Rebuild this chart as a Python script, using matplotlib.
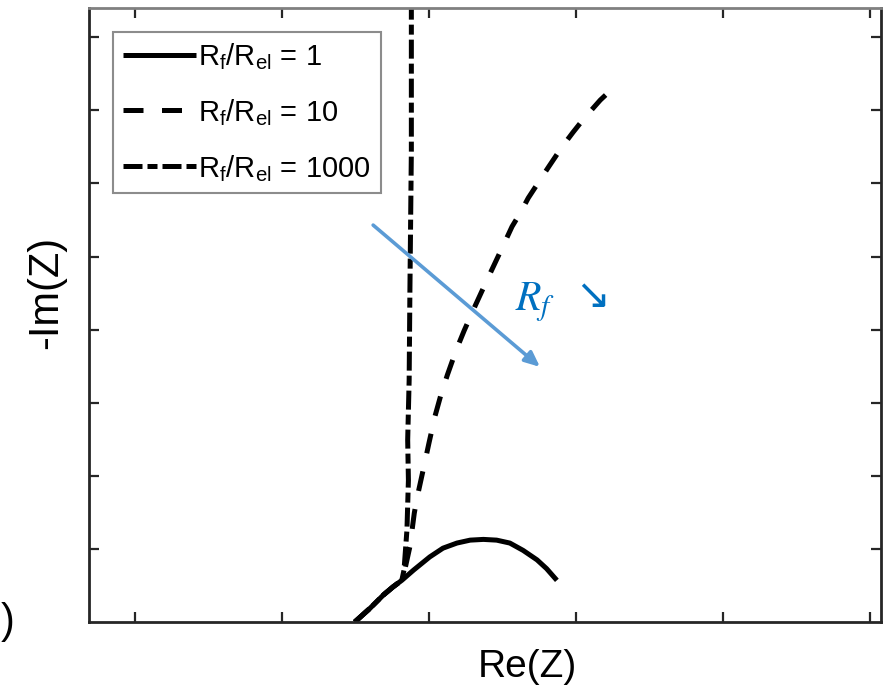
import numpy as np
import matplotlib
matplotlib.use('Agg')
import matplotlib.pyplot as plt

plt.rcParams['font.family'] = ['Liberation Sans', 'DejaVu Sans']
plt.rcParams['mathtext.fontset'] = 'custom'
plt.rcParams['mathtext.rm'] = 'Liberation Sans'
plt.rcParams['mathtext.it'] = 'Liberation Sans:italic'
plt.rcParams['mathtext.default'] = 'regular'

# Data (arbitrary units)
re_1 = [2.99, 3.20, 3.38, 3.51, 3.63, 3.79, 4.01, 4.19, 4.38, 4.56, 4.74,
        4.92, 5.10, 5.28, 5.47, 5.60, 5.74]
im_1 = [0.00, 0.19, 0.37, 0.48, 0.57, 0.71, 0.89, 1.01, 1.08, 1.12, 1.13,
        1.12, 1.08, 0.98, 0.85, 0.73, 0.57]

re_10 = [2.99, 3.20, 3.38, 3.51, 3.63, 3.67, 3.74, 3.80, 3.84, 3.89, 3.94,
         4.00, 4.08, 4.16, 4.25, 4.37, 4.48, 4.63, 4.79, 5.01, 5.13, 5.25,
         5.35, 5.48, 5.63, 5.81, 5.96, 6.11, 6.33, 6.52]
im_10 = [0.00, 0.19, 0.37, 0.48, 0.57, 0.71, 1.03, 1.49, 1.71, 1.94, 2.17,
         2.45, 2.81, 3.10, 3.38, 3.72, 3.99, 4.33, 4.68, 5.15, 5.41, 5.61,
         5.80, 6.00, 6.23, 6.50, 6.70, 6.89, 7.14, 7.32]

re_1000 = [2.99, 3.20, 3.38, 3.51, 3.63, 3.66, 3.70, 3.72, 3.71, 3.73, 3.74,
           3.76, 3.76]
im_1000 = [0.00, 0.19, 0.37, 0.48, 0.57, 0.71, 1.26, 1.94, 2.49, 3.31, 4.50,
           6.45, 8.60]

labels = [r'R$_{f}$/R$_{el}$ = 1', r'R$_{f}$/R$_{el}$ = 10',
          r'R$_{f}$/R$_{el}$ = 1000']

fig = plt.figure(figsize=(8.84, 6.88), dpi=100)
ax = fig.add_axes([89 / 884, 1 - 622 / 688, 792 / 884, 614 / 688])

lw = 3.6
ax.plot(re_1, im_1, color='black', lw=lw, solid_capstyle='butt',
        solid_joinstyle='round', label=labels[0])
ax.plot(re_10, im_10, color='black', lw=lw, dashes=(4.0, 3.7),
        dash_capstyle='butt', label=labels[1])
ax.plot(re_1000, im_1000, color='black', lw=lw, dashes=(3.8, 1.0, 2.0, 1.0),
        dash_capstyle='butt', label=labels[2])

ax.set_xlim(-0.626, 10.15)
ax.set_ylim(0, 8.40)
ax.set_xticks(np.arange(0, 11, 2))
ax.set_yticks(np.arange(1, 9, 1))
ax.tick_params(direction='in', length=7, width=1.6, top=True, right=True,
               labelbottom=False, labelleft=False, color='#262626')
for side in ['left', 'right', 'bottom']:
    ax.spines[side].set_color('#262626')
    ax.spines[side].set_linewidth(2)
ax.spines['top'].set_color('#808080')
ax.spines['top'].set_linewidth(2)

ax.set_xlabel('Re(Z)', fontsize=28)
ax.xaxis.set_label_coords((527 - 89) / 792, -(677 - 622) / 614)
ax.xaxis.label.set_va('baseline')
ax.set_ylabel('-Im(Z)', fontsize=30)
ax.yaxis.set_label_coords(-(89 - 46) / 792, (622 - 292) / 614)
ax.yaxis.label.set_va('center')

leg = ax.legend(loc='upper left', bbox_to_anchor=((113 - 89) / 792, (622 - 32) / 614),
                borderaxespad=0, fontsize=21, handlelength=2.5, handletextpad=0.1,
                labelspacing=0.85, fancybox=False, borderpad=0.33, frameon=True,
                handleheight=0.9)
leg.get_frame().set_edgecolor('#707070')
leg.get_frame().set_linewidth(1.5)

# blue arrow and annotation
ax.annotate('', xy=(5.51, 3.49), xytext=(3.24, 5.43),
            arrowprops=dict(arrowstyle='-|>,head_length=0.9,head_width=0.4',
                            color='#5B9BD5', lw=2.6, shrinkA=0, shrinkB=0))
ax.text(5.17, 4.27, r'$\mathit{R_f}$', color='#0070C0', fontsize=30,
        math_fontfamily='stix', ha='left', va='baseline')
ax.text(6.22, 4.46, '\u2198', color='#0070C0', fontsize=30,
        family='DejaVu Sans', ha='center', va='center')

fig.text(0.016, 1 - 622 / 688, ')', fontsize=30, ha='right', va='center')

fig.savefig('out.png', dpi=100)
